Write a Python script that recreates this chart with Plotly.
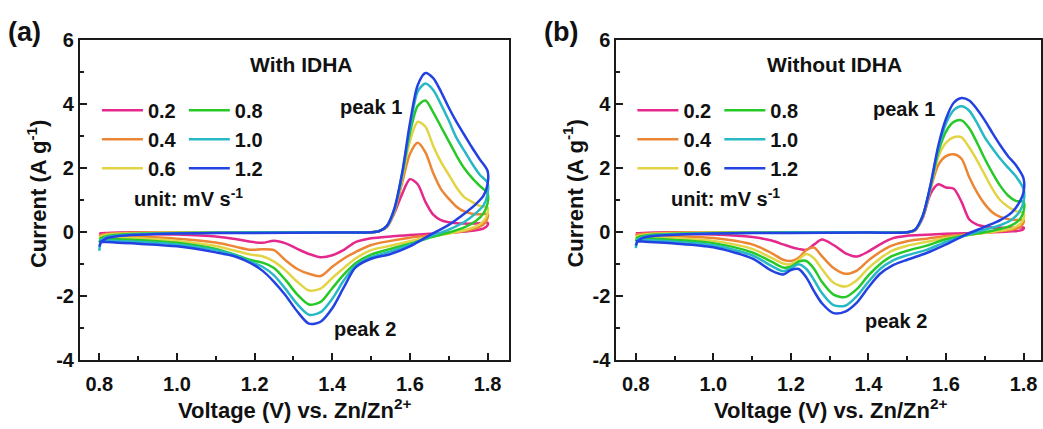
import plotly.graph_objects as go

W, H = 1043, 429
FONT = "Liberation Sans, Arial, sans-serif"
INK = "#111111"

RATES = ["0.2", "0.4", "0.6", "0.8", "1.0", "1.2"]
COLORS = ["#E4288C", "#EC8634", "#E2D445", "#27C928", "#27B8C6", "#2342E2"]

# ---- voltage grids (V vs. Zn/Zn2+) ----
V_ANODIC = [0.80, 0.805, 0.82, 0.85, 0.90, 1.00, 1.20, 1.40, 1.50,
            1.52, 1.54, 1.56, 1.58, 1.60, 1.62, 1.64, 1.66, 1.68,
            1.70, 1.72, 1.74, 1.76, 1.78, 1.80]
V_CATHODIC_A = [1.80, 1.79, 1.77, 1.74, 1.70, 1.65, 1.60, 1.55, 1.50, 1.46,
                1.43, 1.40, 1.37, 1.34, 1.31, 1.28, 1.25, 1.22, 1.19, 1.15,
                1.10, 1.00, 0.90, 0.80]
V_CATHODIC_B = [1.80, 1.79, 1.77, 1.74, 1.70, 1.65, 1.60, 1.55, 1.50, 1.46,
                1.43, 1.40, 1.37, 1.34, 1.31, 1.28, 1.26, 1.24, 1.22, 1.20,
                1.18, 1.15, 1.10, 1.00, 0.90, 0.80]

# ---- (a) with IDHA: current (A g-1), anodic sweep ----
a_an_02 = [-0.06, -0.03, -0.02, -0.01, 0.00, 0.00, 0.00, 0.00, 0.00, 0.03, 0.15, 0.60,
           1.20, 1.66, 1.50, 0.95, 0.55, 0.38, 0.31, 0.28, 0.27, 0.27, 0.28, 0.30]
a_an_04 = [-0.14, -0.08, -0.05, -0.03, -0.01, 0.00, 0.00, 0.00, 0.00, 0.03, 0.16, 0.65,
           1.55, 2.45, 2.80, 2.50, 1.85, 1.35, 1.05, 0.80, 0.65, 0.58, 0.56, 0.57]
a_an_06 = [-0.22, -0.13, -0.08, -0.05, -0.03, -0.01, 0.00, 0.00, 0.00, 0.03, 0.17, 0.68,
           1.70, 2.85, 3.45, 3.30, 2.70, 2.20, 1.80, 1.40, 1.10, 0.95, 0.82, 0.78]
a_an_08 = [-0.32, -0.18, -0.12, -0.08, -0.05, -0.02, -0.01, 0.00, 0.00, 0.03, 0.18, 0.70,
           1.78, 3.10, 3.95, 4.12, 3.75, 3.30, 2.85, 2.40, 2.00, 1.70, 1.45, 1.22]
a_an_10 = [-0.58, -0.25, -0.15, -0.10, -0.06, -0.03, -0.01, 0.00, 0.00, 0.03, 0.18, 0.72,
           1.82, 3.25, 4.40, 4.65, 4.45, 4.00, 3.50, 2.95, 2.55, 2.15, 1.80, 1.55]
a_an_12 = [-0.45, -0.30, -0.18, -0.12, -0.08, -0.04, -0.02, -0.01, 0.00, 0.03, 0.19, 0.74,
           1.86, 3.40, 4.60, 4.98, 4.82, 4.40, 3.90, 3.45, 3.05, 2.65, 2.28, 1.92]

# ---- (a) with IDHA: cathodic sweep ----
a_ca_02 = [0.22, 0.12, 0.06, 0.02, -0.02, -0.05, -0.09, -0.13, -0.19, -0.31, -0.55, -0.72,
           -0.78, -0.68, -0.52, -0.35, -0.27, -0.33, -0.30, -0.21, -0.13, -0.07, -0.05, -0.04]
a_ca_04 = [0.45, 0.25, 0.12, 0.04, -0.02, -0.10, -0.17, -0.27, -0.40, -0.62, -0.82, -1.08,
           -1.37, -1.30, -1.15, -0.88, -0.56, -0.53, -0.55, -0.45, -0.32, -0.20, -0.13, -0.10]
a_ca_06 = [0.60, 0.35, 0.18, 0.06, -0.04, -0.15, -0.28, -0.42, -0.56, -0.82, -1.12, -1.43,
           -1.76, -1.82, -1.55, -1.20, -0.92, -0.75, -0.70, -0.58, -0.43, -0.27, -0.19, -0.15]
a_ca_08 = [0.90, 0.60, 0.35, 0.15, -0.01, -0.17, -0.36, -0.52, -0.70, -0.97, -1.32, -1.75,
           -2.18, -2.26, -1.95, -1.50, -1.12, -0.95, -0.87, -0.70, -0.52, -0.33, -0.24, -0.20]
a_ca_10 = [1.20, 0.85, 0.60, 0.32, 0.08, -0.14, -0.40, -0.60, -0.78, -1.05, -1.50, -2.08,
           -2.50, -2.58, -2.25, -1.78, -1.35, -1.08, -0.93, -0.72, -0.56, -0.38, -0.30, -0.25]
a_ca_12 = [1.50, 1.15, 0.88, 0.58, 0.23, -0.10, -0.44, -0.68, -0.83, -1.10, -1.72, -2.38,
           -2.80, -2.86, -2.48, -1.98, -1.55, -1.20, -0.97, -0.76, -0.63, -0.44, -0.36, -0.30]

# ---- (b) without IDHA: anodic sweep ----
b_an_02 = [-0.05, -0.03, -0.02, -0.01, 0.00, 0.00, 0.00, 0.00, 0.00, 0.06, 0.45, 1.20,
           1.50, 1.40, 1.36, 0.95, 0.40, 0.24, 0.18, 0.15, 0.14, 0.14, 0.14, 0.15]
b_an_04 = [-0.12, -0.07, -0.05, -0.03, -0.01, 0.00, 0.00, 0.00, 0.00, 0.06, 0.48, 1.35,
           2.10, 2.38, 2.44, 2.30, 1.72, 1.25, 0.88, 0.62, 0.48, 0.41, 0.38, 0.38]
b_an_06 = [-0.20, -0.12, -0.08, -0.05, -0.03, -0.01, 0.00, 0.00, 0.00, 0.07, 0.50, 1.40,
           2.35, 2.80, 2.97, 2.97, 2.65, 2.25, 1.80, 1.35, 1.00, 0.80, 0.66, 0.60]
b_an_08 = [-0.28, -0.17, -0.11, -0.07, -0.05, -0.02, -0.01, 0.00, 0.00, 0.07, 0.50, 1.42,
           2.50, 3.15, 3.45, 3.50, 3.25, 2.80, 2.30, 1.85, 1.45, 1.15, 0.98, 0.95]
b_an_10 = [-0.50, -0.24, -0.14, -0.09, -0.06, -0.03, -0.01, 0.00, 0.00, 0.08, 0.50, 1.45,
           2.60, 3.40, 3.82, 3.94, 3.80, 3.42, 2.97, 2.62, 2.30, 2.02, 1.75, 1.35]
b_an_12 = [-0.42, -0.28, -0.17, -0.11, -0.08, -0.04, -0.02, -0.01, 0.00, 0.08, 0.52, 1.48,
           2.70, 3.55, 4.05, 4.20, 4.12, 3.85, 3.50, 3.10, 2.72, 2.38, 2.10, 1.68]

# ---- (b) without IDHA: cathodic sweep ----
b_ca_02 = [0.10, 0.05, 0.03, 0.01, -0.01, -0.03, -0.05, -0.08, -0.11, -0.20, -0.38, -0.60, -0.76,
           -0.65, -0.40, -0.23, -0.38, -0.55, -0.52, -0.46, -0.38, -0.26, -0.15, -0.07, -0.05, -0.03]
b_ca_04 = [0.30, 0.15, 0.08, 0.03, -0.02, -0.07, -0.12, -0.20, -0.28, -0.42, -0.62, -0.88, -1.20,
           -1.30, -1.12, -0.75, -0.48, -0.55, -0.80, -0.90, -0.86, -0.65, -0.38, -0.18, -0.12, -0.08]
b_ca_06 = [0.42, 0.25, 0.12, 0.05, -0.02, -0.10, -0.18, -0.30, -0.42, -0.58, -0.82, -1.12, -1.50,
           -1.70, -1.58, -1.15, -0.82, -0.68, -0.85, -1.00, -0.98, -0.80, -0.52, -0.27, -0.19, -0.13]
b_ca_08 = [0.65, 0.40, 0.22, 0.10, 0.00, -0.10, -0.22, -0.42, -0.58, -0.75, -1.00, -1.35, -1.78,
           -2.03, -1.95, -1.55, -1.15, -0.90, -0.92, -1.08, -1.10, -0.92, -0.63, -0.34, -0.24, -0.18]
b_ca_10 = [0.95, 0.65, 0.40, 0.22, 0.08, -0.10, -0.30, -0.55, -0.72, -0.90, -1.15, -1.55, -2.00,
           -2.30, -2.28, -1.90, -1.50, -1.15, -1.00, -1.12, -1.22, -1.05, -0.72, -0.41, -0.30, -0.23]
b_ca_12 = [1.25, 0.95, 0.62, 0.38, 0.17, -0.08, -0.38, -0.65, -0.86, -1.05, -1.30, -1.72, -2.20,
           -2.48, -2.53, -2.22, -1.85, -1.42, -1.15, -1.18, -1.32, -1.20, -0.82, -0.47, -0.35, -0.28]

X_TICKS = [0.8, 1.0, 1.2, 1.4, 1.6, 1.8]
X_MINOR = [0.9, 1.1, 1.3, 1.5, 1.7]
Y_TICKS = [-4, -2, 0, 2, 4, 6]
Y_MINOR = [-3, -1, 1, 3, 5]

panels = [
    dict(xa="x", ya="y", vc=V_CATHODIC_A, legends=("legend", "legend2"),
         an=[a_an_02, a_an_04, a_an_06, a_an_08, a_an_10, a_an_12],
         ca=[a_ca_02, a_ca_04, a_ca_06, a_ca_08, a_ca_10, a_ca_12]),
    dict(xa="x2", ya="y2", vc=V_CATHODIC_B, legends=("legend3", "legend4"),
         an=[b_an_02, b_an_04, b_an_06, b_an_08, b_an_10, b_an_12],
         ca=[b_ca_02, b_ca_04, b_ca_06, b_ca_08, b_ca_10, b_ca_12]),
]

fig = go.Figure()
for p in panels:
    for i, rate in enumerate(RATES):
        fig.add_trace(go.Scatter(
            x=V_ANODIC + p["vc"], y=p["an"][i] + p["ca"][i],
            mode="lines", name=rate, xaxis=p["xa"], yaxis=p["ya"],
            legend=p["legends"][0 if i < 3 else 1],
            line=dict(color=COLORS[i], width=2.5, shape="spline", smoothing=0.8),
            hoverinfo="skip",
        ))


def px(x):
    return x / W


def py(y):
    return 1 - y / H


tick_font = dict(family=FONT, size=20, color=INK, weight="bold")
axis_common = dict(
    showline=True, linecolor="#1a1a1a", linewidth=2, mirror=True,
    ticks="inside", ticklen=7, tickwidth=2, tickcolor="#1a1a1a",
    showgrid=False, zeroline=False, tickfont=tick_font,
)
x_common = dict(axis_common, tickmode="array", tickvals=X_TICKS,
                ticktext=[f"{v:.1f}" for v in X_TICKS], ticklabelstandoff=5,
                minor=dict(tickmode="array", tickvals=X_MINOR, ticks="inside",
                           ticklen=4, tickwidth=1.5, tickcolor="#1a1a1a"))
y_common = dict(axis_common, tickmode="array", tickvals=Y_TICKS,
                ticktext=[str(v) for v in Y_TICKS], range=[-4, 6],
                domain=[py(368), py(31)],
                minor=dict(tickmode="array", tickvals=Y_MINOR, ticks="inside",
                           ticklen=4, tickwidth=1.5, tickcolor="#1a1a1a"))

leg_font = dict(family=FONT, size=20, color=INK, weight="bold")


def legend_at(xpix, ypix):
    return dict(x=px(xpix), y=py(ypix), xanchor="left", yanchor="top",
                bgcolor="rgba(0,0,0,0)", font=leg_font, tracegroupgap=0,
                itemwidth=41, itemclick=False, itemdoubleclick=False)


fig.update_layout(
    width=W, height=H, margin=dict(l=0, r=0, t=0, b=0),
    paper_bgcolor="white", plot_bgcolor="white",
    font=dict(family=FONT, color=INK),
    xaxis=dict(x_common, domain=[px(80), px(509)], range=[0.75, 1.854], anchor="y"),
    yaxis=dict(y_common, anchor="x"),
    xaxis2=dict(x_common, domain=[px(617), px(1042)], range=[0.75, 1.845], anchor="y2"),
    yaxis2=dict(y_common, anchor="x2"),
    legend=legend_at(97, 84),
    legend2=legend_at(184, 84),
    legend3=legend_at(633, 84),
    legend4=legend_at(720, 84),
)


def label(text, xpix, ypix, size=20, angle=0):
    fig.add_annotation(text=text, x=px(xpix), y=py(ypix), xref="paper", yref="paper",
                       showarrow=False, textangle=angle, xanchor="center", yanchor="middle",
                       font=dict(family=FONT, size=size, color=INK, weight="bold"))


for off, tag, title in [(0, "(a)", "With IDHA"), (537, "(b)", "Without IDHA")]:
    label(tag, 25 + off, 22, size=27)
    label(title, 301 + off - (3 if off else 0), 56, size=21)
    label("Voltage (V) vs. Zn/Zn<sup>2+</sup>", 295 + off, 420, size=22)
    label("Current (A g<sup>-1</sup>)", 37 + off, 192, size=22, angle=-90)
    label("unit: mV s<sup>-1</sup>", 189 + off, 197, size=20)

label("peak 1", 371, 101)
label("peak 2", 365, 335)
label("peak 1", 905, 103)
label("peak 2", 897, 327)

fig.write_html("out.html")
